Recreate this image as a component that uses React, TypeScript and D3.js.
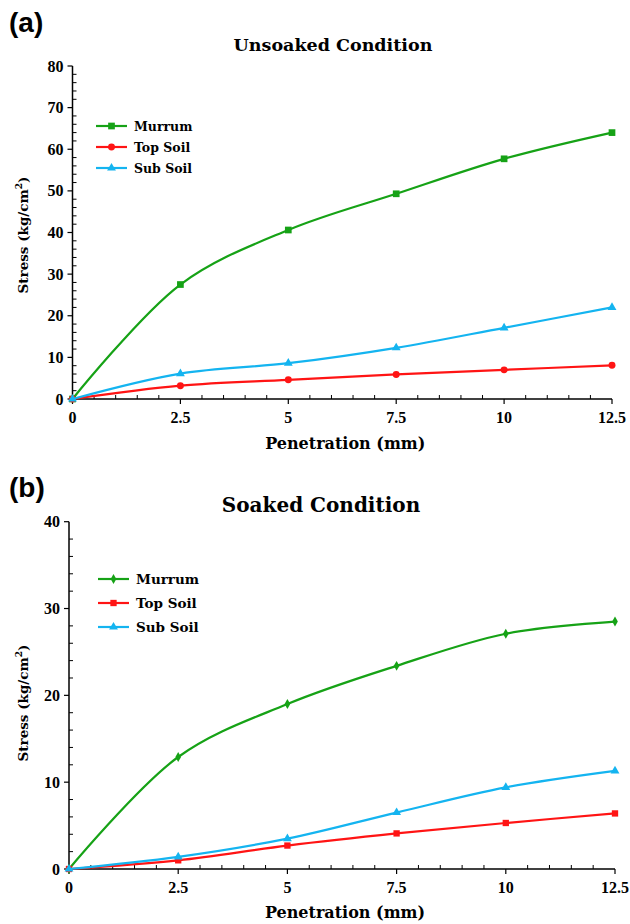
import React from 'react';
import * as d3 from 'd3';

const penetration = [0, 2.5, 5, 7.5, 10, 12.5];
const seriesNames = ['Murrum', 'Top Soil', 'Sub Soil'];

const unsoakedMurrum = [0, 27.5, 40.6, 49.3, 57.7, 64.0];
const unsoakedTopSoil = [0, 3.2, 4.6, 5.9, 7.0, 8.1];
const unsoakedSubSoil = [0, 6.1, 8.6, 12.3, 17.1, 22.0];

const soakedMurrum = [0, 12.9, 19.0, 23.4, 27.1, 28.5];
const soakedTopSoil = [0, 1.0, 2.7, 4.1, 5.3, 6.4];
const soakedSubSoil = [0, 1.4, 3.5, 6.5, 9.4, 11.3];

const xTickValues = [0, 2.5, 5, 7.5, 10, 12.5];
const xTickLabels = ['0', '2.5', '5', '7.5', '10', '12.5'];
const unsoakedYTicks = [0, 10, 20, 30, 40, 50, 60, 70, 80];
const soakedYTicks = [0, 10, 20, 30, 40];

const COLORS = ['#16a216', '#ff1414', '#14b4f0'];
const SERIF = "'DejaVu Serif', 'Liberation Serif', serif";
const TIMES = "'Liberation Serif', 'Times New Roman', serif";

interface PanelProps {
  tag: string;
  tagY: number;
  title: string;
  titleX: number;
  titleY: number;
  titleSize: number;
  x0: number;
  x1: number;
  y0: number;
  y1: number;
  yMax: number;
  yTicks: number[];
  series: number[][];
  symbols: d3.SymbolType[];
  symbolSizes: number[];
  legendX: number;
  legendY: number;
  legendGap: number;
  legendSize: number;
  xLabelY: number;
  yLabelY: number;
}

const Panel: React.FC<PanelProps> = (p) => {
  const x = d3.scaleLinear().domain([0, 12.5]).range([p.x0, p.x1]);
  const y = d3.scaleLinear().domain([0, p.yMax]).range([p.y0, p.y1]);

  const line = d3.line<number>()
    .x((d, i) => x(penetration[i]))
    .y(d => y(d))
    .curve(d3.curveCatmullRom.alpha(0.5));

  const yMinor = d3.range(0, p.yMax + 0.001, 2).filter(v => v % 10 !== 0);
  const xMinor = d3.range(0, 12.5001, 0.5).filter(v => Math.abs(v / 2.5 - Math.round(v / 2.5)) > 1e-6);

  return (
    <g>
      <text x={9} y={p.tagY} fontFamily="'Liberation Sans', Arial, sans-serif" fontWeight="bold" fontSize={28}>{p.tag}</text>
      <text x={p.titleX} y={p.titleY} textAnchor="middle" fontFamily={SERIF} fontWeight="bold" fontSize={p.titleSize}>{p.title}</text>

      {/* axes */}
      <line x1={p.x0} x2={p.x0} y1={p.y1} y2={p.y0} stroke="#000" strokeWidth={1.5} />
      <line x1={p.x0} x2={p.x1} y1={p.y0} y2={p.y0} stroke="#000" strokeWidth={1.5} />

      {p.yTicks.map(v => (
        <g key={'yt' + v}>
          <line x1={p.x0 - 5} x2={p.x0} y1={y(v)} y2={y(v)} stroke="#000" strokeWidth={1.2} />
          <text x={p.x0 - 9} y={y(v) + 5.5} textAnchor="end" fontFamily={TIMES} fontWeight="bold" fontSize={16}>{v}</text>
        </g>
      ))}
      {yMinor.map(v => (
        <line key={'ym' + v} x1={p.x0} x2={p.x0 + 4} y1={y(v)} y2={y(v)} stroke="#000" strokeWidth={1} />
      ))}

      {xTickValues.map((v, i) => (
        <g key={'xt' + v}>
          <line x1={x(v)} x2={x(v)} y1={p.y0} y2={p.y0 + 5} stroke="#000" strokeWidth={1.2} />
          <text x={x(v)} y={p.y0 + 24} textAnchor="middle" fontFamily={TIMES} fontWeight="bold" fontSize={16}>{xTickLabels[i]}</text>
        </g>
      ))}
      {xMinor.map(v => (
        <line key={'xm' + v} x1={x(v)} x2={x(v)} y1={p.y0} y2={p.y0 - 4} stroke="#000" strokeWidth={1} />
      ))}

      <text x={(p.x0 + p.x1) / 2 + 3} y={p.xLabelY} textAnchor="middle" fontFamily={SERIF} fontWeight="bold" fontSize={16}>Penetration (mm)</text>
      <text transform={`translate(28,${p.yLabelY}) rotate(-90)`} textAnchor="middle" fontFamily={SERIF} fontWeight="bold" fontSize={13.5}>
        Stress (kg/cm<tspan dy={-6} fontSize={9}>2</tspan><tspan dy={6}>)</tspan>
      </text>

      {/* series */}
      {p.series.map((s, si) => (
        <g key={'s' + si}>
          <path d={line(s) || ''} fill="none" stroke={COLORS[si]} strokeWidth={2.2} />
          {s.map((v, i) => (
            <path key={i} transform={`translate(${x(penetration[i])},${y(v)})`}
              d={d3.symbol().type(p.symbols[si]).size(p.symbolSizes[si])() || ''} fill={COLORS[si]} />
          ))}
        </g>
      ))}

      {/* legend */}
      {seriesNames.map((name, i) => {
        const ly = p.legendY + i * p.legendGap;
        return (
          <g key={'lg' + i}>
            <line x1={p.legendX} x2={p.legendX + 31} y1={ly} y2={ly} stroke={COLORS[i]} strokeWidth={2.2} />
            <path transform={`translate(${p.legendX + 15.5},${ly})`}
              d={d3.symbol().type(p.symbols[i]).size(p.symbolSizes[i])() || ''} fill={COLORS[i]} />
            <text x={p.legendX + 38} y={ly + 4.5} fontFamily={SERIF} fontWeight="bold" fontSize={p.legendSize}>{name}</text>
          </g>
        );
      })}
    </g>
  );
};

export default function App() {
  return (
    <svg width={630} height={924} style={{ position: 'absolute', left: 0, top: 0, background: '#fff' }}>
      <rect width={630} height={924} fill="#fff" />
      <Panel
        tag="(a)" tagY={32}
        title="Unsoaked Condition" titleX={333} titleY={51} titleSize={17.5}
        x0={72.5} x1={612} y0={399} y1={66} yMax={80} yTicks={unsoakedYTicks}
        series={[unsoakedMurrum, unsoakedTopSoil, unsoakedSubSoil]}
        symbols={[d3.symbolSquare, d3.symbolCircle, d3.symbolTriangle]}
        symbolSizes={[45, 38, 34]}
        legendX={96} legendY={126} legendGap={21} legendSize={12.5}
        xLabelY={449} yLabelY={235}
      />
      <Panel
        tag="(b)" tagY={497}
        title="Soaked Condition" titleX={321} titleY={512} titleSize={20}
        x0={69} x1={615} y0={869} y1={521.7} yMax={40} yTicks={soakedYTicks}
        series={[soakedMurrum, soakedTopSoil, soakedSubSoil]}
        symbols={[d3.symbolDiamond, d3.symbolSquare, d3.symbolTriangle]}
        symbolSizes={[28, 40, 34]}
        legendX={98} legendY={579} legendGap={24} legendSize={13.5}
        xLabelY={918} yLabelY={703}
      />
    </svg>
  );
}
